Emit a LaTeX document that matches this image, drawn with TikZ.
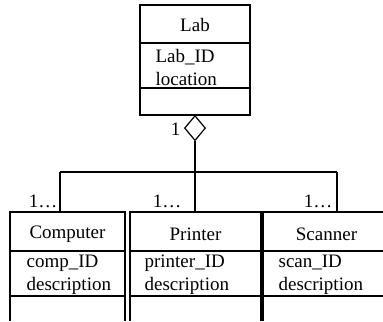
\documentclass[tikz,border=0pt]{standalone}
\usepackage{fontspec}
\setmainfont{Liberation Serif}
\usetikzlibrary{shapes.geometric, positioning}

\begin{document}
\begin{tikzpicture}[x=0.5pt, y=-0.5pt, line width=0.6pt,
    every node/.style={font=\fontsize{9.5}{11.5}\selectfont, inner sep=0pt},
    attr/.style={anchor=west, align=left},
    mult/.style={anchor=base east}]
    \useasboundingbox (0,0) rectangle (383,321);

    % Lab class
    \draw (140,5) rectangle (250,115);
    \draw (140,43) -- (250,43);
    \draw (140,88) -- (250,88);
    \node (labname) at (195,25) {Lab};
    \node[attr] (labattr) at (155,67) {Lab\_ID\\location};

    % aggregation
    \node[diamond, draw, minimum width=10.5pt, minimum height=12.5pt, anchor=north] (agg) at (195,115) {};
    \node[anchor=east] (labmult) at (181,129) {1};
    \coordinate (compjoin) at (60,172);
    \coordinate (scanjoin) at (337,172);
    \coordinate (comptop) at (60,212);
    \coordinate (prnttop) at (195,212);
    \coordinate (scantop) at (337,212);
    \draw (agg.south) -- (prnttop);
    \draw (compjoin) -- (scanjoin);
    \draw (compjoin) -- (comptop);
    \draw (scanjoin) -- (scantop);

    % Computer class
    \draw (10,321) -- (10,212) -- (125,212) -- (125,321);
    \draw (10,251) -- (125,251);
    \draw (10,296) -- (125,296);
    \node (compname) at (67.5,234) {Computer};
    \node[attr] (compattr) at (26,275) {comp\_ID\\description};
    \node[mult] (compmult) at (58,207) {1…};

    % Printer class
    \draw (130,321) -- (130,212) -- (261,212) -- (261,321);
    \draw (130,251) -- (261,251);
    \draw (130,296) -- (261,296);
    \node (prntname) at (195.5,234) {Printer};
    \node[attr] (prntattr) at (144,275) {printer\_ID\\description};
    \node[mult] (prntmult) at (182,207) {1…};

    % Scanner class
    \draw (263,321) -- (263,212) -- (383,212);
    \draw (263,251) -- (383,251);
    \draw (263,296) -- (383,296);
    \node (scanname) at (326.5,234) {Scanner};
    \node[attr] (scanattr) at (278,275) {scan\_ID\\description};
    \node[mult] (scanmult) at (333,207) {1…};
\end{tikzpicture}
\end{document}
